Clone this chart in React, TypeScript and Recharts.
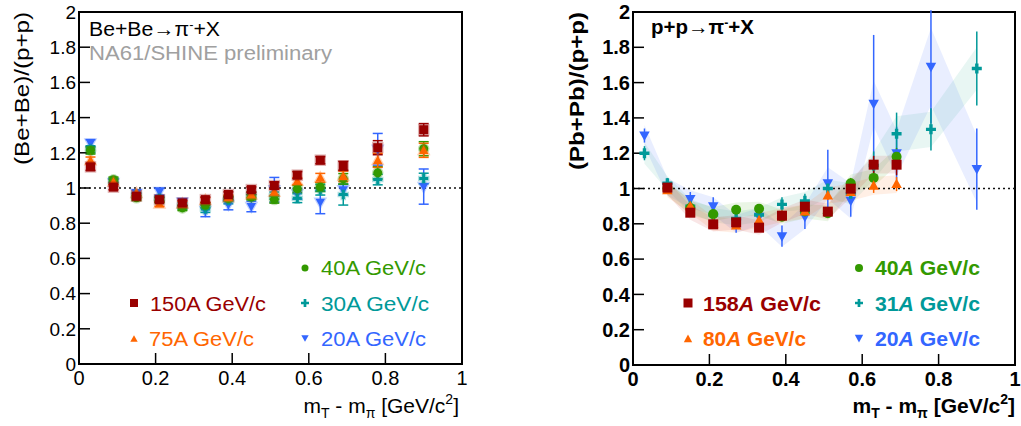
import React from "react";
import {
  ComposedChart,
  Scatter,
  Area,
  XAxis,
  YAxis,
  ErrorBar,
  ReferenceLine,
  ReferenceArea,
} from "recharts";

const FONT = "'Liberation Sans', Arial, Helvetica, sans-serif";

const RED = "#990000";
const ORANGE = "#ff6600";
const GREEN = "#339900";
const TEAL = "#009999";
const BLUE = "#3366ff";

// axis ticks
const majorX = [0, 0.2, 0.4, 0.6, 0.8, 1];
const minorX = [0, 0.05, 0.1, 0.15, 0.2, 0.25, 0.3, 0.35, 0.4, 0.45, 0.5, 0.55, 0.6, 0.65, 0.7, 0.75, 0.8, 0.85, 0.9, 0.95, 1];
const majorY = [0, 0.2, 0.4, 0.6, 0.8, 1, 1.2, 1.4, 1.6, 1.8, 2];
const minorY = [
  0, 0.05, 0.1, 0.15, 0.2, 0.25, 0.3, 0.35, 0.4, 0.45, 0.5, 0.55, 0.6, 0.65, 0.7, 0.75, 0.8, 0.85, 0.9, 0.95, 1,
  1.05, 1.1, 1.15, 1.2, 1.25, 1.3, 1.35, 1.4, 1.45, 1.5, 1.55, 1.6, 1.65, 1.7, 1.75, 1.8, 1.85, 1.9, 1.95, 2,
];

// mT - m_pi bin centres
const mt = [0.03, 0.09, 0.15, 0.21, 0.27, 0.33, 0.39, 0.45, 0.51, 0.57, 0.63, 0.69, 0.78, 0.9];
const mtMid = [0.09, 0.15, 0.21, 0.27, 0.33, 0.39, 0.45, 0.51, 0.57, 0.63, 0.69];

// Be+Be / p+p
const be150 = [1.12, 1.005, 0.953, 0.934, 0.915, 0.934, 0.963, 0.991, 1.014, 1.073, 1.158, 1.126, 1.229, 1.331];
const be150e = [0.02, 0.015, 0.015, 0.015, 0.015, 0.015, 0.015, 0.015, 0.02, 0.02, 0.02, 0.025, 0.04, 0.035];
const be75 = [1.156, 1.033, 0.97, 0.91, 0.91, 0.93, 0.945, 0.961, 0.976, 1.039, 1.058, 1.066, 1.157, 1.214];
const be75e = [0.02, 0.015, 0.015, 0.015, 0.015, 0.015, 0.015, 0.015, 0.02, 0.02, 0.025, 0.03, 0.04, 0.04];
const be40 = [1.213, 1.047, 0.944, 0.93, 0.887, 0.902, 0.94, 0.948, 0.934, 0.995, 1.005, 1.052, 1.086, 1.223];
const be40e = [0.02, 0.015, 0.015, 0.015, 0.015, 0.015, 0.015, 0.015, 0.02, 0.02, 0.025, 0.03, 0.035, 0.04];
const be30 = [1.22, 1.04, 0.96, 0.94, 0.9, 0.881, 0.93, 0.96, 0.957, 0.942, 0.99, 0.963, 1.048, 1.054];
const be30e = [0.02, 0.015, 0.015, 0.015, 0.02, 0.02, 0.02, 0.02, 0.02, 0.025, 0.03, 0.06, 0.03, 0.03];
const be20 = [1.255, 1.03, 0.97, 0.98, 0.92, 0.872, 0.906, 0.895, 0.99, 0.967, 0.919, 0.99, 1.22, 1.008];
const be20e = [0.02, 0.02, 0.02, 0.02, 0.02, 0.035, 0.03, 0.03, 0.07, 0.03, 0.065, 0.03, 0.09, 0.1];

// Pb+Pb / p+p
const pb20 = [1.3, 1.01, 0.94, 0.9, 0.8, 0.84, 0.73, 0.84, 1.03, 0.93, 1.48, 1.2, 1.69, 1.11];
const pb20e = [0.04, 0.03, 0.04, 0.05, 0.05, 0.05, 0.06, 0.07, 0.19, 0.09, 0.39, 0.15, 0.32, 0.23];
const pb20s = [0.06, 0.05, 0.05, 0.05, 0.05, 0.05, 0.06, 0.07, 0.09, 0.1, 0.13, 0.13, 0.22, 0.19];
const pb31 = [1.2, 1.03, 0.9, 0.85, 0.83, 0.85, 0.91, 0.93, 1.0, 0.97, 1.13, 1.31, 1.335, 1.68];
const pb31e = [0.04, 0.03, 0.03, 0.03, 0.03, 0.03, 0.04, 0.04, 0.05, 0.05, 0.08, 0.12, 0.12, 0.21];
const pb31s = [0.06, 0.04, 0.04, 0.04, 0.04, 0.04, 0.04, 0.05, 0.05, 0.06, 0.08, 0.1, 0.1, 0.12];
const pb40 = [1.0, 0.89, 0.855, 0.88, 0.885, 0.84, 0.87, 0.86, 1.03, 1.06, 1.18];
const pb40e = [0.02, 0.02, 0.02, 0.02, 0.02, 0.02, 0.02, 0.025, 0.03, 0.04, 0.05];
const pb80 = [0.99, 0.9, 0.8, 0.79, 0.82, 0.85, 0.87, 0.96, 0.98, 1.015, 1.025];
const pb80e = [0.02, 0.02, 0.02, 0.02, 0.02, 0.02, 0.02, 0.025, 0.03, 0.04, 0.04];
const pb158 = [1.005, 0.863, 0.797, 0.808, 0.778, 0.846, 0.897, 0.869, 0.999, 1.135, 1.135];
const pb158e = [0.015, 0.015, 0.015, 0.015, 0.015, 0.015, 0.015, 0.02, 0.03, 0.05, 0.06];
const pbMidS = [0.04, 0.04, 0.04, 0.04, 0.04, 0.04, 0.04, 0.045, 0.05, 0.05, 0.05];

type Kind = "circle" | "square" | "up" | "down" | "cross";

function Marker({ kind, cx, cy, s, color, halo }: { kind: Kind; cx: number; cy: number; s: number; color: string; halo?: boolean }) {
  const st = halo ? { stroke: color, strokeOpacity: 0.3, strokeWidth: 2.5 } : {};
  const h = s / 2;
  if (kind === "circle") return <circle cx={cx} cy={cy} r={h} fill={color} {...st} />;
  if (kind === "square") return <rect x={cx - h} y={cy - h} width={s} height={s} fill={color} {...st} />;
  if (kind === "up")
    return <polygon points={`${cx},${cy - h * 1.1} ${cx - h * 1.05},${cy + h * 0.8} ${cx + h * 1.05},${cy + h * 0.8}`} fill={color} {...st} />;
  if (kind === "down")
    return <polygon points={`${cx},${cy + h * 1.1} ${cx - h * 1.05},${cy - h * 0.8} ${cx + h * 1.05},${cy - h * 0.8}`} fill={color} {...st} />;
  const t = s * 0.17;
  return (
    <path
      d={`M${cx - h},${cy - t}H${cx - t}V${cy - h}H${cx + t}V${cy - t}H${cx + h}V${cy + t}H${cx + t}V${cy + h}H${cx - t}V${cy + t}H${cx - h}Z`}
      fill={color}
      {...st}
    />
  );
}

const shape = (kind: Kind, color: string, s: number, halo: boolean) => (p: any) => {
  if (p.cx == null || p.cy == null) return <g />;
  return <Marker kind={kind} cx={p.cx} cy={p.cy} s={s} color={color} halo={halo} />;
};

const pts = (xs: number[], ys: number[], es: number[]) => xs.map((x, i) => ({ x, y: ys[i], e: es[i] }));

const band = (ys: number[], ss: number[], i: number) => [ys[i] - ss[i], ys[i] + ss[i]];

const bandRows = mt.map((x, i) => {
  const row: any = { x, b20: band(pb20, pb20s, i), b31: band(pb31, pb31s, i) };
  const j = mtMid.indexOf(x);
  if (j >= 0) {
    row.b40 = band(pb40, pbMidS, j);
    row.b80 = band(pb80, pbMidS, j);
    row.b158 = band(pb158, pbMidS, j);
  }
  return row;
});

function axes(bold: boolean, yw: number, xh: number, ysize: number, xsize: number) {
  const fw = bold ? "bold" : "normal";
  return [
    <XAxis key="xm" xAxisId="m" type="number" dataKey="x" domain={[0, 1]} allowDataOverflow ticks={minorX} interval={0}
      tick={false} tickSize={-6} axisLine={false} height={0} tickLine={{ stroke: "#000", strokeWidth: 1 }} />,
    <YAxis key="ym" yAxisId="m" type="number" dataKey="y" domain={[0, 2]} allowDataOverflow ticks={minorY} interval={0}
      tick={false} tickSize={-6} axisLine={false} width={0} tickLine={{ stroke: "#000", strokeWidth: 1 }} />,
    <XAxis key="x" type="number" dataKey="x" domain={[0, 1]} allowDataOverflow ticks={majorX} interval={0}
      tickSize={-11} tickMargin={18} height={xh} axisLine={{ stroke: "#000", strokeWidth: 2 }}
      tickLine={{ stroke: "#000", strokeWidth: 1.5 }} tick={{ fontSize: xsize, fill: "#000", fontWeight: fw }} />,
    <YAxis key="y" type="number" dataKey="y" domain={[0, 2]} allowDataOverflow ticks={majorY} interval={0}
      tickSize={-11} tickMargin={14} width={yw} axisLine={{ stroke: "#000", strokeWidth: 2 }}
      tickLine={{ stroke: "#000", strokeWidth: 1.5 }} tick={{ fontSize: ysize, fill: "#000", fontWeight: fw }} />,
    <ReferenceArea key="frame" x1={0} x2={1} y1={0} y2={2} fill="none" stroke="#000" strokeWidth={2} ifOverflow="visible" />,
    <ReferenceLine key="one" y={1} stroke="#111" strokeWidth={1.5} strokeDasharray="2 3" />,
  ];
}

function LeftPanel() {
  const series: [Kind, string, number[], number[]][] = [
    ["down", BLUE, be20, be20e],
    ["cross", TEAL, be30, be30e],
    ["circle", GREEN, be40, be40e],
    ["up", ORANGE, be75, be75e],
    ["square", RED, be150, be150e],
  ];
  return (
    <ComposedChart width={480} height={426} margin={{ top: 12, right: 18, bottom: 0, left: 0 }}>
      {axes(false, 79, 62, 19, 20)}
      {series.map(([k, c, ys, es]) => (
        <Scatter key={c} data={pts(mt, ys, es)} fill={c} shape={shape(k, c, 9, true)} isAnimationActive={false}>
          <ErrorBar dataKey="e" direction="y" width={5} stroke={c} strokeWidth={1.5} />
        </Scatter>
      ))}
    </ComposedChart>
  );
}

function RightPanel() {
  const bands: [string, string, number][] = [
    ["b20", BLUE, 0.11],
    ["b31", "#22aa88", 0.1],
    ["b40", GREEN, 0.1],
    ["b80", ORANGE, 0.1],
    ["b158", "#cc3333", 0.12],
  ];
  const series: [Kind, string, number[], number[], number[]][] = [
    ["down", BLUE, mt, pb20, pb20e],
    ["cross", TEAL, mt, pb31, pb31e],
    ["circle", GREEN, mtMid, pb40, pb40e],
    ["up", ORANGE, mtMid, pb80, pb80e],
    ["square", RED, mtMid, pb158, pb158e],
  ];
  return (
    <ComposedChart width={481} height={426} data={bandRows} margin={{ top: 12, right: 6, bottom: 0, left: 0 }}>
      {axes(true, 93, 61, 20, 20)}
      {bands.map(([k, c, o]) => (
        <Area key={k} type="linear" dataKey={k} stroke="none" fill={c} fillOpacity={o} isAnimationActive={false} dot={false} activeDot={false} />
      ))}
      {series.map(([k, c, xs, ys, es]) => (
        <Scatter key={c} data={pts(xs, ys, es)} fill={c} shape={shape(k, c, 10, false)} isAnimationActive={false}>
          <ErrorBar dataKey="e" direction="y" width={0} stroke={c} strokeWidth={1.5} />
        </Scatter>
      ))}
    </ComposedChart>
  );
}

function XTitle({ x, bold }: { x: number; bold: boolean }) {
  return (
    <text x={x} y={413} textAnchor="end" fontSize={21} fontWeight={bold ? "bold" : "normal"}>
      m<tspan dy={5} fontSize={14}>T</tspan><tspan dy={-5}> - m</tspan><tspan dy={5} fontSize={14}>π</tspan>
      <tspan dy={-5}> [GeV/c</tspan><tspan dy={-9} fontSize={14}>2</tspan><tspan dy={9}>]</tspan>
    </text>
  );
}

export default function App() {
  return (
    <div style={{ position: "absolute", left: 0, top: 0, width: 1021, height: 426, background: "#fff", fontFamily: FONT }}>
      <div style={{ position: "absolute", left: 0, top: 0 }}>
        <LeftPanel />
      </div>
      <div style={{ position: "absolute", left: 540, top: 0 }}>
        <RightPanel />
      </div>
      <svg width={1021} height={426} style={{ position: "absolute", left: 0, top: 0, pointerEvents: "none" }} fontFamily={FONT}>
        {/* left panel texts */}
        <text x={89} y={36} fontSize={20} textLength={131} lengthAdjust="spacingAndGlyphs">
          Be+Be→π<tspan dy={-7} fontSize={12}>-</tspan><tspan dy={7}>+X</tspan>
        </text>
        <text x={89} y={60} fontSize={20} fill="#a0a0a0" textLength={243} lengthAdjust="spacingAndGlyphs">NA61/SHINE preliminary</text>
        <text transform="translate(29,12) rotate(-90)" textAnchor="end" fontSize={21} textLength={153} lengthAdjust="spacingAndGlyphs">(Be+Be)/(p+p)</text>
        <XTitle x={459} bold={false} />
        <Marker kind="circle" cx={305} cy={268} s={7} color={GREEN} />
        <text x={321} y={275} fontSize={20} fill={GREEN} textLength={105} lengthAdjust="spacingAndGlyphs">40A GeV/c</text>
        <Marker kind="square" cx={134} cy={303} s={8} color={RED} />
        <text x={150} y={311} fontSize={20} fill={RED} textLength={116} lengthAdjust="spacingAndGlyphs">150A GeV/c</text>
        <Marker kind="cross" cx={305} cy={303} s={8} color={TEAL} />
        <text x={321} y={311} fontSize={20} fill={TEAL} textLength={108} lengthAdjust="spacingAndGlyphs">30A GeV/c</text>
        <Marker kind="up" cx={134} cy={339} s={7} color={ORANGE} />
        <text x={149} y={346} fontSize={20} fill={ORANGE} textLength={105} lengthAdjust="spacingAndGlyphs">75A GeV/c</text>
        <Marker kind="down" cx={305} cy={338} s={7} color={BLUE} />
        <text x={321} y={346} fontSize={20} fill={BLUE} textLength={105} lengthAdjust="spacingAndGlyphs">20A GeV/c</text>

        {/* right panel texts */}
        <text x={651} y={34} fontSize={20} fontWeight="bold" textLength={103} lengthAdjust="spacingAndGlyphs">
          p+p→π<tspan dy={-7} fontSize={12}>-</tspan><tspan dy={7}>+X</tspan>
        </text>
        <text transform="translate(584,12) rotate(-90)" textAnchor="end" fontSize={21} fontWeight="bold" textLength={158} lengthAdjust="spacingAndGlyphs">(Pb+Pb)/(p+p)</text>
        <XTitle x={1015} bold={true} />
        <Marker kind="circle" cx={859} cy={268} s={8} color={GREEN} />
        <text x={875} y={275} fontSize={20} fontWeight="bold" fill={GREEN} textLength={105} lengthAdjust="spacingAndGlyphs">
          40<tspan fontStyle="italic">A</tspan> GeV/c
        </text>
        <Marker kind="square" cx={688} cy={303} s={9} color={RED} />
        <text x={703} y={311} fontSize={20} fontWeight="bold" fill={RED} textLength={118} lengthAdjust="spacingAndGlyphs">
          158<tspan fontStyle="italic">A</tspan> GeV/c
        </text>
        <Marker kind="cross" cx={859} cy={303} s={8} color={TEAL} />
        <text x={875} y={311} fontSize={20} fontWeight="bold" fill={TEAL} textLength={105} lengthAdjust="spacingAndGlyphs">
          31<tspan fontStyle="italic">A</tspan> GeV/c
        </text>
        <Marker kind="up" cx={688} cy={339} s={8} color={ORANGE} />
        <text x={703} y={346} fontSize={20} fontWeight="bold" fill={ORANGE} textLength={103} lengthAdjust="spacingAndGlyphs">
          80<tspan fontStyle="italic">A</tspan> GeV/c
        </text>
        <Marker kind="down" cx={859} cy={338} s={8} color={BLUE} />
        <text x={875} y={346} fontSize={20} fontWeight="bold" fill={BLUE} textLength={105} lengthAdjust="spacingAndGlyphs">
          20<tspan fontStyle="italic">A</tspan> GeV/c
        </text>
      </svg>
    </div>
  );
}
